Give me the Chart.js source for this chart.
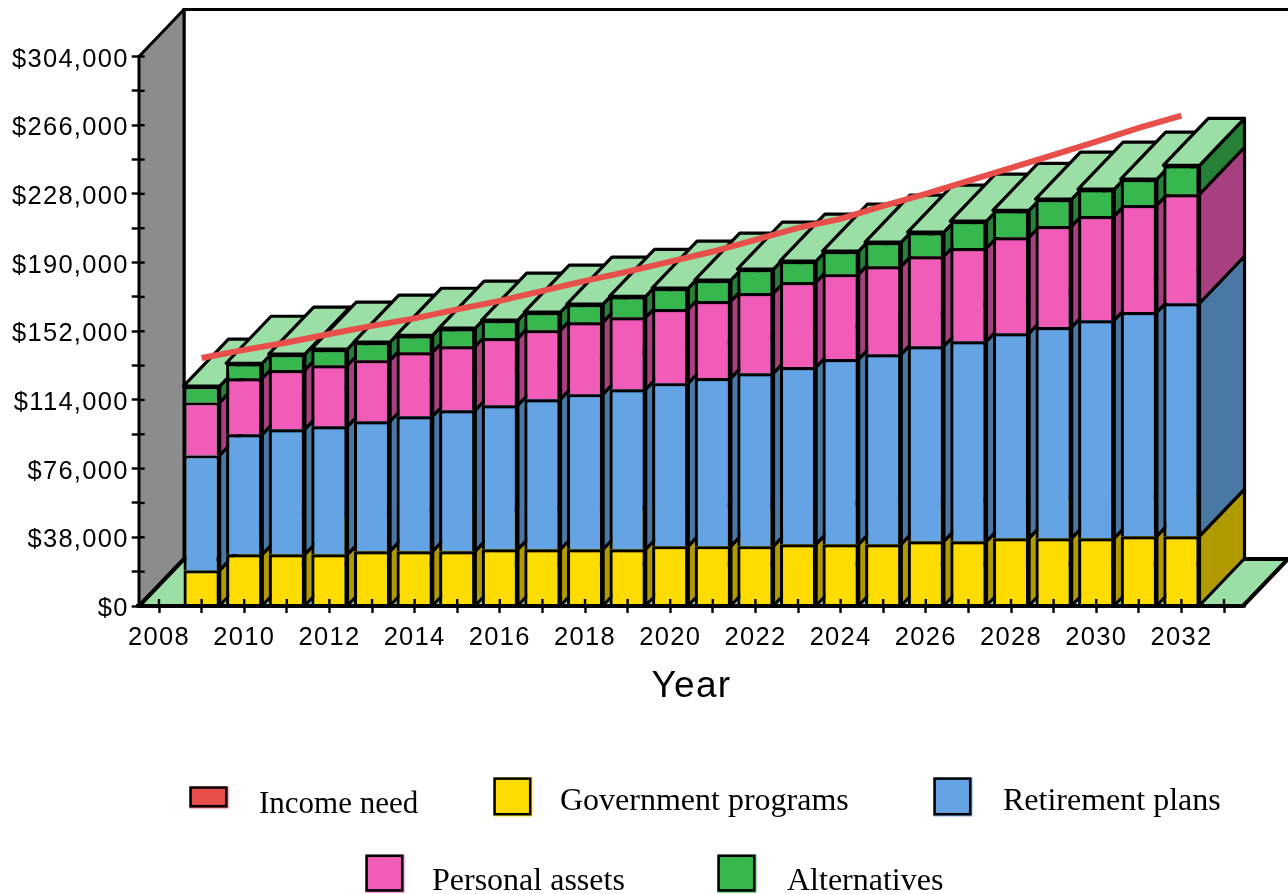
<!DOCTYPE html>
<html><head><meta charset="utf-8">
<style>html,body{margin:0;padding:0;background:#fff}canvas{display:block}</style>
<script src="https://cdn.jsdelivr.net/npm/chart.js@4/dist/chart.umd.min.js"></script>
</head><body><canvas id="c" width="1288" height="894"></canvas>
<script>
const years = [2008,2009,2010,2011,2012,2013,2014,2015,2016,2017,2018,2019,2020,2021,2022,2023,2024,2025,2026,2027,2028,2029,2030,2031,2032,2033];
const incomeNeed = [null,137200,141700,145800,150500,155000,159100,164100,168800,174300,179900,185000,190500,196100,202500,209200,214200,221400,228000,235200,242400,249600,256900,264500,271300,null];
const governmentPrograms = [null,19800,28600,28600,28600,30300,30300,30300,31400,31400,31400,31400,33100,33100,33100,34200,34200,34200,35800,35800,37500,37500,37500,38600,38600,null];
const retirementPlans = [null,63600,66400,69200,70800,71900,74700,78000,79700,83000,85800,88500,90200,93000,95700,98000,102400,105100,107900,110700,113400,116800,120600,124000,128900,null];
const personalAssets = [null,29300,31000,32700,33800,33800,35400,35400,37100,38200,39800,39800,41000,42600,44300,47000,47000,48700,49800,51500,53100,55900,57600,59200,60300,null];
const alternatives = [null,8900,8300,8900,8900,10000,9400,10000,10000,10000,10000,11600,11600,11600,13300,11600,12700,13300,13300,14900,14900,14900,14900,14400,16000,null];
const seriesNames = ['Income need','Government programs','Retirement plans','Personal assets','Alternatives'];
const yMax = 304000, yStep = 19000;

const COL = {line:'#e84f4a', gov:'#ffdc00', ret:'#64a4e4', per:'#f05cb8', alt:'#36b84f'};
const SIDE = ['#b09a00','#4a78a4','#a84080','#268038'];
const TOP = '#9bdea6', WALL = '#8c8c8c';
const DX = 45, DY = 47, LW = 3.2;
const SPACING = '1.3px';
const INSET_L = 1.3, INSET_R = 2.3;

const LEGEND = [
 {x:189.4,y:786.4,w:39,h:22,tx:259,ty:813,fs:31},
 {x:493.4,y:777.4,w:39,h:39,tx:560,ty:810,fs:32},
 {x:933.4,y:777.4,w:39,h:39,tx:1003,ty:810,fs:32},
 {x:365.4,y:854.6,w:39,h:38,tx:432,ty:890,fs:32},
 {x:717.4,y:854.6,w:39,h:38,tx:787,ty:890,fs:32}
];

function poly(ctx, pts, fill, lw){
  ctx.beginPath();
  pts.forEach((p,i)=> i?ctx.lineTo(p[0],p[1]):ctx.moveTo(p[0],p[1]));
  ctx.closePath();
  if(fill){ctx.fillStyle=fill;ctx.fill();}
  ctx.lineWidth=lw||LW;ctx.strokeStyle='#000';ctx.lineJoin='round';ctx.stroke();
}

const scene = {
  id:'scene',
  beforeDraw(chart){
    const ctx=chart.ctx, a=chart.chartArea;
    const l=a.left+INSET_L, r=a.right-INSET_R;
    ctx.letterSpacing=SPACING;
    ctx.save();
    ctx.fillStyle='#fff';ctx.fillRect(0,0,chart.width,chart.height);
    ctx.beginPath();ctx.moveTo(r+DX+3,a.top-DY);ctx.lineTo(l+DX,a.top-DY);ctx.lineTo(l+DX,a.bottom-DY);
    ctx.lineWidth=3;ctx.strokeStyle='#000';ctx.stroke();
    poly(ctx,[[l,a.bottom],[l,a.top],[l+DX,a.top-DY],[l+DX,a.bottom-DY]],WALL,3);
    poly(ctx,[[l,a.bottom],[l+DX,a.bottom-DY],[r+DX,a.bottom-DY],[r,a.bottom]],TOP,4);
    ctx.restore();
  },
  beforeDatasetsDraw(chart){
    const ctx=chart.ctx;
    ctx.save();
    const metas=[1,2,3,4].map(i=>chart.getDatasetMeta(i));
    const n=metas[0].data.length;
    for(let i=0;i<n;i++){
      if(governmentPrograms[i]==null) continue;
      let topEl=null;
      metas.forEach((m,k)=>{
        const el=m.data[i], hw=el.width/2, xr=el.x+hw;
        poly(ctx,[[xr,el.base],[xr+DX,el.base-DY],[xr+DX,el.y-DY],[xr,el.y]],SIDE[k]);
        topEl=el;
      });
      const hw=topEl.width/2,x0=topEl.x-hw,x1=topEl.x+hw,y=topEl.y;
      poly(ctx,[[x0,y],[x0+DX,y-DY],[x1+DX,y-DY],[x1,y]],TOP);
    }
    ctx.restore();
  },
  afterDraw(chart){
    const ctx=chart.ctx, xs=chart.scales.x, ys=chart.scales.y, a=chart.chartArea;
    ctx.save();
    ctx.letterSpacing='0px';
    ctx.strokeStyle='#000';ctx.lineWidth=2.4;
    xs.ticks.forEach((t,i)=>{const p=xs.getPixelForTick(i);ctx.beginPath();ctx.moveTo(p,a.bottom);ctx.lineTo(p,a.bottom-7);ctx.stroke();});
    ys.ticks.forEach((t,i)=>{const p=ys.getPixelForTick(i);ctx.beginPath();ctx.moveTo(a.left,p);ctx.lineTo(a.left+7,p);ctx.stroke();});
    const cols=[COL.line,COL.gov,COL.ret,COL.per,COL.alt];
    ctx.textBaseline='alphabetic';ctx.textAlign='left';
    seriesNames.forEach((s,i)=>{
      const L=LEGEND[i];
      ctx.fillStyle=cols[i];ctx.fillRect(L.x,L.y,L.w,L.h);
      ctx.lineWidth=2.5;ctx.strokeRect(L.x+1.2,L.y+1.2,L.w-3.4,L.h-3.4);
      ctx.font=L.fs+'px "Liberation Serif"';
      ctx.fillStyle='#000';ctx.fillText(s,L.tx,L.ty);
    });
    ctx.restore();
  }
};

function barSet(label,data,color){
  return {type:'bar',label,data,backgroundColor:color,borderColor:'#000',
    borderWidth:{top:3.2,left:3.2,right:3.2,bottom:0},borderSkipped:false,order:1,stack:'s',
    barPercentage:0.85,categoryPercentage:1};
}

Chart.register(scene);
new Chart(document.getElementById('c'),{
  data:{labels:years.map(String),datasets:[
    {type:'line',label:seriesNames[0],data:incomeNeed,borderColor:COL.line,backgroundColor:COL.line,borderWidth:6,pointRadius:0,tension:0,order:0,borderCapStyle:'butt',borderJoinStyle:'miter',stack:'l'},
    barSet(seriesNames[1],governmentPrograms,COL.gov),
    barSet(seriesNames[2],retirementPlans,COL.ret),
    barSet(seriesNames[3],personalAssets,COL.per),
    barSet(seriesNames[4],alternatives,COL.alt)
  ]},
  options:{
    responsive:false,animation:false,devicePixelRatio:1,
    layout:{padding:{top:56.5,left:0,right:42.7,bottom:0}},
    plugins:{legend:{display:false},tooltip:{enabled:false},title:{display:false}},
    scales:{
      x:{stacked:true,offset:true,
        afterFit(s){s.height=288;},
        grid:{display:true,drawOnChartArea:false,offset:false,tickLength:7,tickColor:'#000',tickWidth:2.4,z:2},
        border:{display:true,color:'#000',width:3.6,z:2},
        ticks:{autoSkip:false,maxRotation:0,minRotation:0,color:'#000',padding:10,font:{family:'"Liberation Sans"',size:25.5},
          callback(v,i){const y=years[i];return y%2===0?String(y):'';}},
        title:{display:true,text:'Year',color:'#000',font:{family:'"Liberation Sans"',size:37},padding:{top:14,bottom:185}}
      },
      y:{stacked:true,min:0,max:yMax,
        afterFit(s){s.width=137.7;},
        grid:{display:true,drawOnChartArea:false,tickLength:6,tickColor:'#000',tickWidth:2.4},
        border:{display:false},
        ticks:{stepSize:yStep,color:'#000',padding:3,labelOffset:3,font:{family:'"Liberation Sans"',size:25.5},
          callback(v){return v%(yStep*2)===0?'$'+v.toLocaleString('en-US'):'';}}
      }
    }
  }
});
</script>
</body></html>
